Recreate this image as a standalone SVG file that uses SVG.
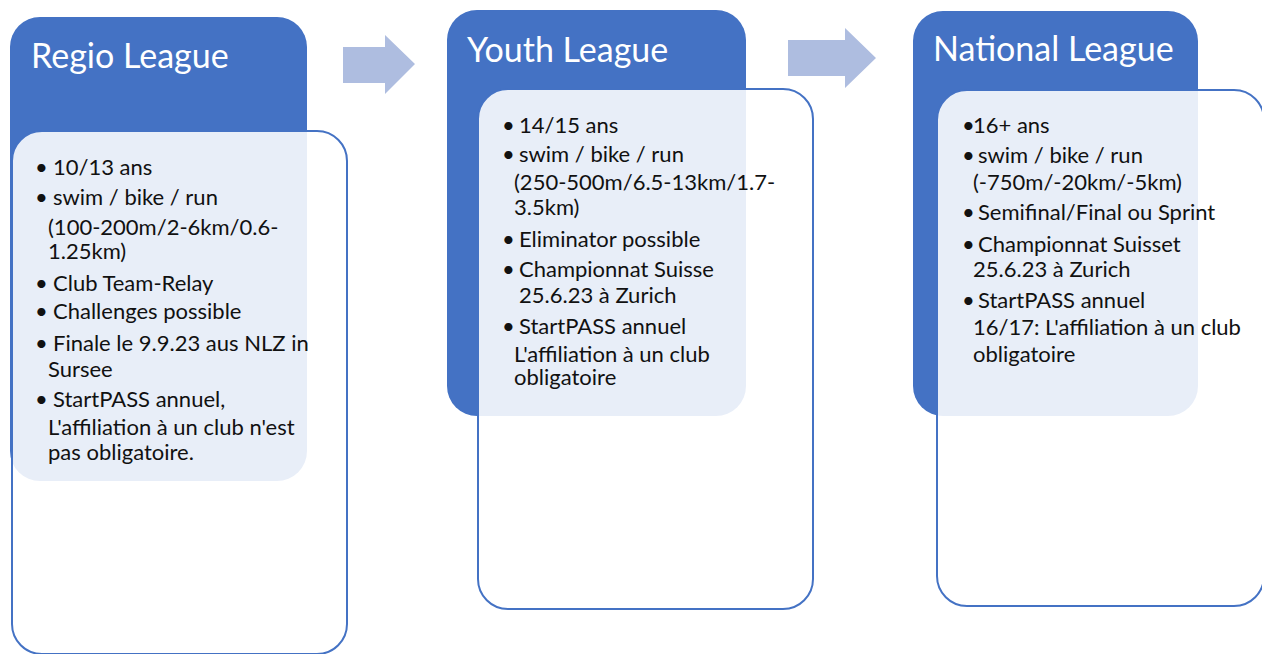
<svg xmlns="http://www.w3.org/2000/svg" width="1262" height="654" viewBox="0 0 1262 654">
<style>
.hdr{fill:#4472C4}
.box{fill:#ffffff;fill-opacity:0.88;stroke:#4472C4;stroke-width:2}
.arrow{fill:#AEBDE0}
.title{font-family:Lato,"Open Sans",sans-serif;font-size:34px;fill:#ffffff}
.body{font-family:Lato,"Open Sans",sans-serif;font-size:22px;fill:#111111}
</style>
<rect width="1262" height="654" fill="#ffffff"/>
<g id="connectors">
<polygon class="arrow" points="343,47 385,47 385,35 415,64 385,94 385,83 343,83"/>
<polygon class="arrow" points="788,40 845,40 845,28 876,58 845,88 845,76 788,76"/>
</g>
<g id="regio">
<rect class="hdr" x="10" y="17" width="297" height="464" rx="30"/>
<rect class="box" x="12" y="131" width="335" height="523" rx="30"/>
<text class="title" x="31" y="68">Regio League</text>
<text class="body">
<tspan x="35" y="175">•</tspan><tspan x="53" y="175">10/13 ans</tspan>
<tspan x="35" y="205">•</tspan><tspan x="53" y="205">swim / bike / run</tspan>
<tspan x="48" y="235">(100-200m/2-6km/0.6-</tspan>
<tspan x="48" y="259">1.25km)</tspan>
<tspan x="35" y="291">•</tspan><tspan x="53" y="291">Club Team-Relay</tspan>
<tspan x="35" y="319">•</tspan><tspan x="53" y="319">Challenges possible</tspan>
<tspan x="35" y="351">•</tspan><tspan x="53" y="351">Finale le 9.9.23 aus NLZ in</tspan>
<tspan x="48" y="377">Sursee</tspan>
<tspan x="35" y="407">•</tspan><tspan x="53" y="407">StartPASS annuel,</tspan>
<tspan x="48" y="435">L'affiliation à un club n'est</tspan>
<tspan x="48" y="460">pas obligatoire.</tspan>
</text>
</g>
<g id="youth">
<rect class="hdr" x="447" y="10" width="299" height="406" rx="30"/>
<rect class="box" x="478" y="89" width="335" height="520" rx="30"/>
<text class="title" x="467" y="62">Youth League</text>
<text class="body">
<tspan x="502" y="133">•</tspan><tspan x="519" y="133">14/15 ans</tspan>
<tspan x="502" y="162">•</tspan><tspan x="519" y="162">swim / bike / run</tspan>
<tspan x="514" y="190">(250-500m/6.5-13km/1.7-</tspan>
<tspan x="514" y="215">3.5km)</tspan>
<tspan x="502" y="247">•</tspan><tspan x="519" y="247">Eliminator possible</tspan>
<tspan x="502" y="277">•</tspan><tspan x="519" y="277">Championnat Suisse</tspan>
<tspan x="519" y="303">25.6.23 à Zurich</tspan>
<tspan x="502" y="334">•</tspan><tspan x="519" y="334">StartPASS annuel</tspan>
<tspan x="514" y="362">L'affiliation à un club</tspan>
<tspan x="514" y="385">obligatoire</tspan>
</text>
</g>
<g id="national">
<rect class="hdr" x="913" y="11" width="285" height="405" rx="30"/>
<rect class="box" x="937" y="90" width="327" height="516" rx="30"/>
<text class="title" x="933" y="61">National League</text>
<text class="body">
<tspan x="962" y="133">•</tspan><tspan x="973" y="133">16+ ans</tspan>
<tspan x="962" y="163">•</tspan><tspan x="978" y="163">swim / bike / run</tspan>
<tspan x="973" y="190">(-750m/-20km/-5km)</tspan>
<tspan x="962" y="220">•</tspan><tspan x="978" y="220">Semifinal/Final ou Sprint</tspan>
<tspan x="962" y="252">•</tspan><tspan x="978" y="252">Championnat Suisset</tspan>
<tspan x="973" y="277">25.6.23 à Zurich</tspan>
<tspan x="962" y="308">•</tspan><tspan x="978" y="308">StartPASS annuel</tspan>
<tspan x="973" y="335">16/17: L'affiliation à un club</tspan>
<tspan x="973" y="362">obligatoire</tspan>
</text>
</g>
</svg>
